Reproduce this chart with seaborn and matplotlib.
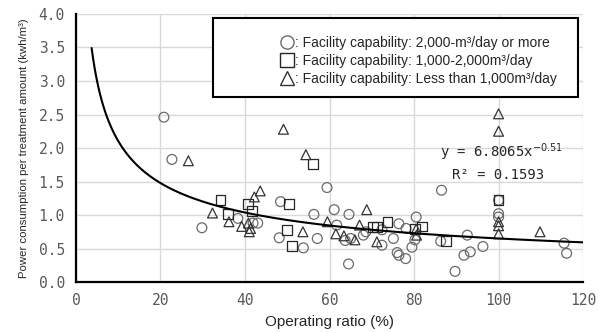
import matplotlib
matplotlib.use("Agg")
import matplotlib.pyplot as plt
from matplotlib.lines import Line2D
from matplotlib.patches import Rectangle
import seaborn as sns
import numpy as np

# facility capability: 2,000 m3/day or more
large_x = [20.8, 22.7, 29.8, 38.3, 41.9, 43.0, 48.4, 48.1, 53.8, 56.3, 57.1, 59.4,
           61.1, 61.7, 63.7, 64.6, 65.0, 64.5, 68.0, 68.6, 72.4, 72.4, 75.1, 76.4,
           78.1, 76.0, 76.4, 78.0, 79.5, 80.5, 80.2, 86.5, 86.3, 89.7, 92.6, 91.8,
           93.3, 96.3, 100, 100, 100, 115.5, 116.1]
large_y = [2.46, 1.83, 0.81, 0.95, 0.88, 0.88, 1.20, 0.66, 0.51, 1.01, 0.65, 1.41,
           1.08, 0.85, 0.62, 1.01, 0.65, 0.27, 0.70, 0.75, 0.78, 0.55, 0.65, 0.87,
           0.80, 0.44, 0.40, 0.35, 0.52, 0.97, 0.63, 1.37, 0.61, 0.16, 0.70, 0.40,
           0.45, 0.53, 1.22, 1.02, 0.97, 0.58, 0.43]

# 1,000-2,000 m3/day
mid_x = [34.2, 36.0, 40.8, 41.6, 50.5, 49.9, 51.2, 56.0, 70.2, 71.3, 73.7, 80.2,
         81.8, 87.6, 100]
mid_y = [1.23, 1.02, 1.16, 1.06, 1.16, 0.78, 0.54, 1.76, 0.82, 0.82, 0.89, 0.79,
         0.83, 0.61, 1.22]

# less than 1,000 m3/day
small_x = [26.6, 32.3, 36.2, 39.2, 41.0, 40.8, 41.3, 42.2, 43.6, 49.1, 54.4, 53.7,
           59.5, 68.8, 61.5, 63.4, 66.0, 67.1, 71.2, 80.5, 80.6, 100, 100, 100,
           100, 100, 109.8]
small_y = [1.81, 1.03, 0.90, 0.83, 0.75, 0.88, 0.80, 1.27, 1.36, 2.28, 1.90, 0.75,
           0.90, 1.08, 0.72, 0.69, 0.63, 0.85, 0.60, 0.79, 0.70, 2.51, 2.25, 0.90,
           0.84, 0.72, 0.75]

legend_labels = [
    ": Facility capability: 2,000-m\u00b3/day or more",
    ": Facility capability: 1,000-2,000m\u00b3/day",
    ": Facility capability: Less than 1,000m\u00b3/day",
]

# power trend line shown in the chart
coef_a = 6.8065
coef_b = -0.51

sns.set_style("white")
plt.rcParams["font.family"] = ["Liberation Sans", "DejaVu Sans"]

fig, ax = plt.subplots(figsize=(6.03, 3.33), dpi=100)
fig.subplots_adjust(left=0.126, right=0.967, bottom=0.153, top=0.958)

groups = [
    (large_x, large_y, "o", "#6a6a6a"),
    (mid_x, mid_y, "s", "#262626"),
    (small_x, small_y, "^", "#333333"),
]
for gx, gy, mk, col in groups:
    sns.scatterplot(x=gx, y=gy, marker=mk, s=50, color=col, facecolor="none",
                    edgecolor=col, linewidth=0.9, ax=ax, zorder=3)

fx = np.linspace(3.7, 120, 300)
sns.lineplot(x=fx, y=coef_a * fx ** coef_b, color="black", linewidth=1.5,
             ax=ax, zorder=4)

ax.set_xlim(0, 120)
ax.set_ylim(0, 4.0)
ax.set_xticks(np.arange(0, 121, 20))
ax.set_yticks(np.arange(0, 4.01, 0.5))
ax.set_yticklabels([f"{v:.1f}" for v in np.arange(0, 4.01, 0.5)])
ax.grid(True, color="#d9d9d9", linewidth=1.0)
ax.set_axisbelow(True)
for side in ["top", "right"]:
    ax.spines[side].set_visible(False)
for side in ["left", "bottom"]:
    ax.spines[side].set_color("black")
    ax.spines[side].set_linewidth(1.6)
ax.tick_params(length=0, labelsize=10.5, labelcolor="#595959", pad=8)
for lab in ax.get_xticklabels() + ax.get_yticklabels():
    lab.set_family("DejaVu Sans Mono")

ax.set_xlabel("Operating ratio (%)", fontsize=11, labelpad=5)
ax.set_ylabel("Power consumption per treatment amount (kwh/m\u00b3)", fontsize=8.2,
              labelpad=7)

ax.text(86.2, 1.94, r"y = 6.8065x$^{-0.51}$", family="DejaVu Sans Mono",
        fontsize=10, va="center", color="#262626", zorder=5)
ax.text(89.0, 1.60, "R\u00b2 = 0.1593", family="DejaVu Sans Mono",
        fontsize=10, va="center", color="#262626", zorder=5)

# legend box
ax.add_patch(Rectangle((0.270, 0.690), 0.720, 0.295, transform=ax.transAxes,
                       facecolor="white", edgecolor="black", linewidth=1.5,
                       zorder=6))
handles = [Line2D([], [], marker=m, linestyle="none", markersize=9.5,
                  markerfacecolor="none", markeredgecolor=c, markeredgewidth=1.0)
           for _, _, m, c in groups]
leg = ax.legend(handles, legend_labels, loc="upper left",
                bbox_to_anchor=(0.402, 0.918), frameon=False, fontsize=10,
                handlelength=1.0, handletextpad=0.1, labelspacing=0.3,
                borderpad=0, borderaxespad=0)
leg.set_zorder(7)

fig.savefig("out.png", dpi=100)
plt.close(fig)
